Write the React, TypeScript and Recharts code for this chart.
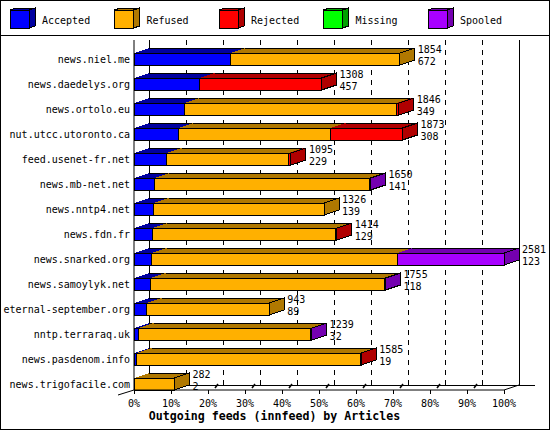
import { Bar, BarChart, CartesianGrid, LabelList, Legend, XAxis, YAxis } from "recharts";

// innfeed outgoing feeds, counts per peer
const hosts = [
  "news.niel.me",
  "news.daedelys.org",
  "news.ortolo.eu",
  "nut.utcc.utoronto.ca",
  "feed.usenet-fr.net",
  "news.mb-net.net",
  "news.nntp4.net",
  "news.fdn.fr",
  "news.snarked.org",
  "news.samoylyk.net",
  "eternal-september.org",
  "nntp.terraraq.uk",
  "news.pasdenom.info",
  "news.trigofacile.com",
];
const offered = [1854, 1308, 1846, 1873, 1095, 1650, 1326, 1414, 2581, 1755, 943, 1239, 1585, 282];
const accepted = [672, 457, 349, 308, 229, 141, 139, 129, 123, 118, 89, 32, 19, 2];
const refused = [1182, 0, 1482, 1065, 851, 1501, 1187, 1280, 1714, 1632, 854, 1202, 1561, 280];
const rejected = [0, 851, 15, 500, 15, 0, 0, 5, 0, 0, 0, 0, 5, 0];
const missing = [0, 0, 0, 0, 0, 0, 0, 0, 0, 0, 0, 0, 0, 0];
const spooled = [0, 0, 0, 0, 0, 8, 0, 0, 744, 5, 0, 5, 0, 0];
const percentTicks = [0, 10, 20, 30, 40, 50, 60, 70, 80, 90, 100];
const title = "Outgoing feeds (innfeed) by Articles";

const SERIES = [
  { key: "accepted", name: "Accepted", front: "#0000ff", dark: "#0000a0" },
  { key: "refused", name: "Refused", front: "#ffb000", dark: "#b07800" },
  { key: "rejected", name: "Rejected", front: "#ff0000", dark: "#b00000" },
  { key: "missing", name: "Missing", front: "#00ff00", dark: "#00a000" },
  { key: "spooled", name: "Spooled", front: "#a800ff", dark: "#7400b0" },
];

const MAX = Math.max(...offered);
const data = hosts.map((host, i) => ({
  host,
  offered: offered[i],
  accepted: accepted[i],
  refused: refused[i],
  rejected: rejected[i],
  missing: missing[i],
  spooled: spooled[i],
}));

const FONT = "DejaVu Sans Mono";
const DX = 15;
const DY = 5;
const FRONT = 12;

function cubeShape(idx: number) {
  return (props: any) => {
    const { x, y, width, height, payload } = props;
    const s = SERIES[idx];
    if (!width || width <= 0) return <g />;
    const top = y + height - FRONT;
    const right = x + width;
    const isLast = SERIES.slice(idx + 1).every((n) => !payload[n.key]);
    return (
      <g shapeRendering="crispEdges">
        <polygon
          points={`${x},${top} ${x + DX},${top - DY} ${right + DX},${top - DY} ${right},${top}`}
          fill={s.dark}
        />
        <line x1={x + DX} y1={top - DY} x2={right + DX} y2={top - DY} stroke="#000" />
        <rect x={x} y={top} width={width} height={FRONT} fill={s.front} stroke="#000" />
        {isLast && (
          <polygon
            points={`${right},${top} ${right + DX},${top - DY} ${right + DX},${top + FRONT - DY} ${right},${top + FRONT}`}
            fill={s.dark}
            stroke="#000"
          />
        )}
      </g>
    );
  };
}

const TotalLabel = (props: any) => {
  const { x, y, width, height, value, index } = props;
  const lx = Number(x) + Number(width) + DX + 3;
  const top = Number(y) + Number(height) - FRONT;
  return (
    <g fontFamily={FONT} fontSize={10} fill="#000">
      <text x={lx} y={top}>{value}</text>
      <text x={lx} y={top + 12}>{accepted[index]}</text>
    </g>
  );
};

const HostTick = (props: any) => {
  const { x, y, payload } = props;
  return (
    <text x={x} y={y + 10.5} textAnchor="end" fontFamily={FONT} fontSize={10} fill="#000">
      {payload.value}
    </text>
  );
};

const PctTick = (props: any) => {
  const { x, y, payload } = props;
  const pct = Math.round((payload.value / MAX) * 100);
  return (
    <g>
      <line x1={x} y1={y} x2={x} y2={y + 4} stroke="#000" shapeRendering="crispEdges" />
      {pct > 10 && pct < 100 && (
        <line x1={x + 7} y1={y - 2} x2={x + 10} y2={y - 6} stroke="#000" strokeWidth={1.5} />
      )}
      <text x={x} y={y + 17} textAnchor="middle" fontFamily={FONT} fontSize={10} fill="#000">
        {`${pct}%`}
      </text>
    </g>
  );
};

const renderWall = (p: any) => {
  const edge = p.index === 0 || p.index === percentTicks.length - 1;
  return (
    <line
      key={p.key}
      x1={p.x1 + DX}
      x2={p.x2 + DX}
      y1={p.y1}
      y2={p.y2 - DY}
      stroke="#000"
      strokeDasharray={edge ? undefined : "5 5"}
      shapeRendering="crispEdges"
    />
  );
};

const renderFloor = (p: any) => (
  <g key={p.key} stroke="#000">
    <line x1={p.x1 + DX} x2={p.x2 + DX + 16} y1={p.y1 - DY} y2={p.y1 - DY} shapeRendering="crispEdges" />
    <line x1={p.x2} y1={p.y1} x2={p.x2 + DX} y2={p.y1 - DY} />
    <line x1={p.x1 - DX - 1} y1={p.y1 + DY} x2={p.x1} y2={p.y1} />
  </g>
);

const LegendContent = (props: any) => {
  const order = (entry: any) => SERIES.findIndex((n) => n.key === entry.dataKey);
  const payload = [...(props.payload || [])].sort((a: any, b: any) => order(a) - order(b));
  return (
    <svg width={550} height={36} style={{ display: "block" }}>
      {payload.map((entry: any, i: number) => {
        const s = SERIES.find((n) => n.key === entry.dataKey) || SERIES[i];
        const x0 = 10 + i * 104.5;
        return (
          <g key={s.key} shapeRendering="crispEdges">
            <polygon points={`${x0},10 ${x0 + 6},8 ${x0 + 25},8 ${x0 + 19},10`} fill={s.dark} stroke="#000" />
            <polygon points={`${x0 + 19},10 ${x0 + 25},8 ${x0 + 25},26 ${x0 + 19},28`} fill={s.dark} stroke="#000" />
            <rect x={x0} y={10} width={19} height={18} fill={s.front} stroke="#000" />
            <text x={x0 + 32} y={24} fontFamily={FONT} fontSize={10} fill="#000">
              {s.name}
            </text>
          </g>
        );
      })}
      <line x1={0} x2={550} y1={35.5} y2={35.5} stroke="#000" />
    </svg>
  );
};

export default function App() {
  return (
    <div style={{ position: "absolute", left: 0, top: 0, width: 550, height: 430, background: "#fff" }}>
      <BarChart
        width={550}
        height={430}
        data={data}
        layout="vertical"
        barCategoryGap={0}
        margin={{ top: 40, right: 46, bottom: 0, left: 0 }}
      >
        <CartesianGrid
          vertical={renderWall}
          horizontal={renderFloor}
          horizontalCoordinatesGenerator={(args: any) =>
            args && args.offset ? [args.offset.top + args.offset.height] : []
          }
        />
        <XAxis
          type="number"
          domain={[0, MAX]}
          ticks={percentTicks.map((p) => (MAX * p) / 100)}
          axisLine={{ stroke: "#000" }}
          tickLine={false}
          tickSize={0}
          tickMargin={0}
          height={40}
          tick={PctTick}
          interval={0}
          label={{
            value: title,
            position: "insideBottom",
            offset: 10,
            dx: -44.5,
            fill: "#000",
            fontFamily: FONT,
            fontSize: 11.6,
            fontWeight: "bold",
          }}
        />
        <YAxis
          type="category"
          dataKey="host"
          width={134}
          axisLine={{ stroke: "#000" }}
          tickLine={false}
          tickSize={0}
          tickMargin={4}
          tick={HostTick}
          interval={0}
        />
        <Legend
          layout="horizontal"
          verticalAlign="middle"
          align="center"
          wrapperStyle={{ top: 0, left: 0, width: 550, height: 36 }}
          content={LegendContent}
        />
        {SERIES.map((s, idx) => (
          <Bar
            key={s.key}
            dataKey={s.key}
            name={s.name}
            stackId="feeds"
            fill={s.front}
            shape={cubeShape(idx)}
            isAnimationActive={false}
          >
            {idx === SERIES.length - 1 && <LabelList dataKey="offered" content={TotalLabel} />}
          </Bar>
        ))}
      </BarChart>
      <div
        style={{
          position: "absolute",
          left: 0,
          top: 0,
          width: 550,
          height: 430,
          border: "1px solid #000",
          boxSizing: "border-box",
          pointerEvents: "none",
        }}
      />
    </div>
  );
}
